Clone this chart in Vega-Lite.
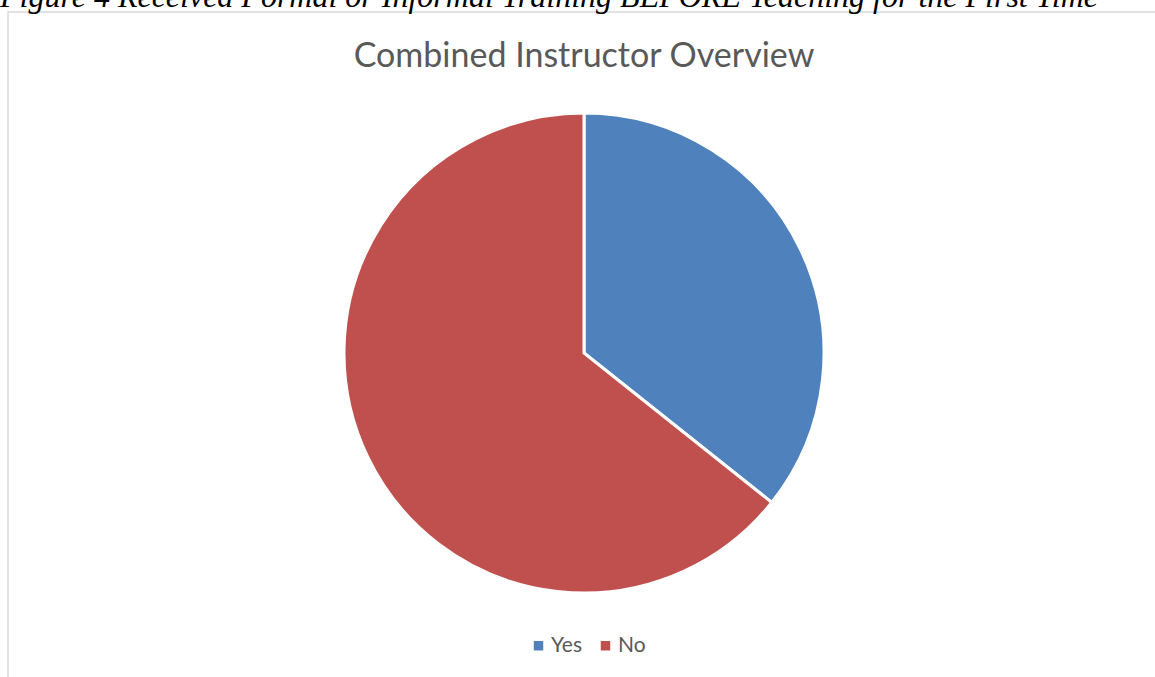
{
  "$schema": "https://vega.github.io/schema/vega-lite/v6.json",
  "autosize": "none",
  "padding": {"left": 8, "top": 12, "right": 0, "bottom": 0},
  "background": "white",
  "width": 1152,
  "height": 682,
  "view": {"stroke": "#d9d9d9", "strokeWidth": 1.5},
  "title": {
    "text": "Figure 4 Received Formal or Informal Training BEFORE Teaching for the First Time",
    "anchor": "start",
    "frame": "group",
    "font": "Liberation Serif",
    "fontStyle": "italic",
    "fontWeight": "normal",
    "fontSize": 32,
    "color": "black",
    "baseline": "alphabetic",
    "offset": -27,
    "dx": -8
  },
  "layer": [
    {
      "data": {
        "values": [
          {"response": "Yes", "share": 35.7, "order": 1},
          {"response": "No", "share": 64.3, "order": 2}
        ]
      },
      "mark": {"type": "arc", "outerRadius": 240, "stroke": "white", "strokeWidth": 3},
      "encoding": {
        "theta": {"field": "share", "type": "quantitative", "stack": true},
        "order": {"field": "order", "type": "quantitative"},
        "color": {
          "field": "response",
          "type": "nominal",
          "sort": ["Yes", "No"],
          "scale": {"domain": ["Yes", "No"], "range": ["#4F81BD", "#C0504D"]},
          "legend": {
            "title": null,
            "orient": "none",
            "direction": "horizontal",
            "legendX": 520,
            "legendY": 623,
            "symbolType": "square",
            "symbolSize": 90,
            "symbolStrokeWidth": 0,
            "labelFont": "Lato",
            "labelFontSize": 21,
            "labelColor": "#595959",
            "labelOffset": 2,
            "columnPadding": 13
          }
        }
      }
    },
    {
      "data": {"values": [{"heading": "Combined Instructor Overview"}]},
      "mark": {
        "type": "text",
        "font": "Lato",
        "fontSize": 34,
        "color": "#595959",
        "baseline": "alphabetic",
        "align": "center",
        "dy": -286
      },
      "encoding": {"text": {"field": "heading", "type": "nominal"}}
    }
  ]
}
